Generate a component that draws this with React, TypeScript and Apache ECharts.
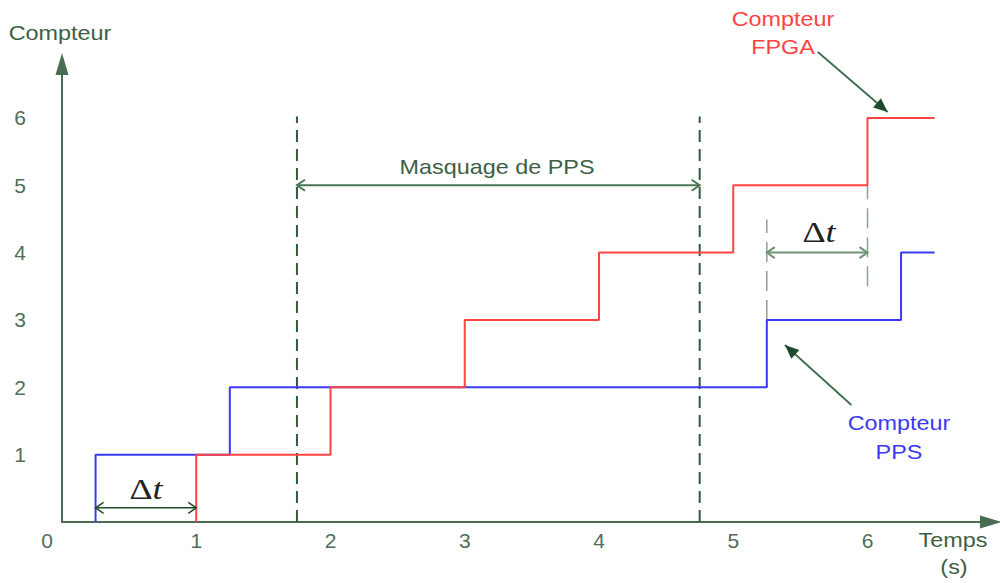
import React, { useEffect, useRef } from "react";
import * as echarts from "echarts";

// ---- data ----
const xTicks = [0, 1, 2, 3, 4, 5, 6];
const ppsStepTimes = [0.25, 1.25, 5.25, 6.25];
const ppsLevels = [1, 2, 3, 4];
const fpgaStepTimes = [1, 2, 3, 4, 5, 6];
const fpgaLevels = [1, 2, 3, 4, 5, 6];
const seriesEnd = 6.5;
const maskTimes = [1.75, 4.75];
const maskTop = 6.02;
const maskArrowLevel = 5;
const dtLowLevel = 0.21;
const dtHighLevel = 4;
// arrows: [x1, y1, x2, y2]
const arrowData = [
  [maskTimes[0], maskArrowLevel, maskTimes[1], maskArrowLevel],
  [ppsStepTimes[0], dtLowLevel, fpgaStepTimes[0], dtLowLevel],
  [ppsStepTimes[2], dtHighLevel, fpgaStepTimes[5], dtHighLevel],
  [5.63, 6.979, 6.15, 6.088],
  [5.88, 1.737, 5.385, 2.628],
];
const arrowKinds = ["double", "double", "double", "single", "single"];
const arrowColors = ["#4a7656", "#1f4d2c", "#6f9377", "#3f6c4a", "#3f6c4a"];
const arrowWidths = [2, 1.5, 2, 1.8, 1.8];
// guide dashes: [x, yFrom, yTo]
const guideData = [
  [ppsStepTimes[2], 3, 4.49],
  [fpgaStepTimes[5], 3.5, 5],
];

const FONT = "'Liberation Sans', Arial, sans-serif";
const SERIF = "'Liberation Serif', 'DejaVu Serif', serif";
const AXIS = "#4a6c53";
const LABEL = "#4f6e57";
const BLUE = "#3a3af5";
const RED = "#ff4242";

function stepData(times: number[], levels: number[]) {
  const pts: number[][] = [[times[0], 0]];
  times.forEach((t, i) => pts.push([t, levels[i]]));
  pts.push([seriesEnd, levels[levels.length - 1]]);
  return pts;
}

function renderArrow(params: any, api: any) {
  const i = params.dataIndex;
  const p1 = api.coord([api.value(0), api.value(1)]);
  const p2 = api.coord([api.value(2), api.value(3)]);
  const dx = p2[0] - p1[0];
  const dy = p2[1] - p1[1];
  const len = Math.sqrt(dx * dx + dy * dy) || 1;
  const ux = dx / len;
  const uy = dy / len;
  const nx = -uy;
  const ny = ux;
  const color = arrowColors[i];
  const w = arrowWidths[i];
  const children: any[] = [
    {
      type: "line",
      shape: { x1: p1[0], y1: p1[1], x2: p2[0], y2: p2[1] },
      style: { stroke: color, lineWidth: w },
    },
  ];
  if (arrowKinds[i] === "double") {
    const L = 8;
    const W = 5.5;
    const head = (tip: number[], sx: number, sy: number) => ({
      type: "polyline",
      shape: {
        points: [
          [tip[0] - sx * L + nx * W, tip[1] - sy * L + ny * W],
          [tip[0], tip[1]],
          [tip[0] - sx * L - nx * W, tip[1] - sy * L - ny * W],
        ],
      },
      style: { stroke: color, fill: "none", lineWidth: w },
    });
    children.push(head(p2, ux, uy));
    children.push(head(p1, -ux, -uy));
  } else {
    const L = 14;
    const W = 6;
    children.push({
      type: "polygon",
      shape: {
        points: [
          [p2[0], p2[1]],
          [p2[0] - ux * L + nx * W, p2[1] - uy * L + ny * W],
          [p2[0] - ux * L - nx * W, p2[1] - uy * L - ny * W],
        ],
      },
      style: { fill: "#1d4a2b" },
    });
  }
  return { type: "group", children };
}

function textEl(text: string, x: number, y: number, fill: string) {
  return {
    type: "text",
    x,
    y,
    scaleX: 1.17,
    style: {
      text,
      fill,
      font: `20px ${FONT}`,
      textAlign: "center",
      textVerticalAlign: "middle",
    },
  };
}

function deltaEl(x: number, y: number) {
  return {
    type: "text",
    x,
    y,
    scaleX: 1.2,
    style: {
      text: "{d|Δ}{t|t}",
      textAlign: "center",
      textVerticalAlign: "middle",
      rich: {
        d: { fontFamily: SERIF, fontSize: 30, fill: "#222", color: "#222" },
        t: { fontFamily: SERIF, fontSize: 30, fontStyle: "italic", fill: "#222", color: "#222" },
      },
    },
  };
}

export default function App() {
  const ref = useRef<HTMLDivElement>(null);
  useEffect(() => {
    document.body.style.margin = "0";
    const chart = echarts.init(ref.current!, null, { renderer: "svg" });
    const dashedMask = maskTimes.map((t) => ({
      type: "line",
      data: [
        [t, 0],
        [t, maskTop],
      ],
      showSymbol: false,
      silent: true,
      lineStyle: { color: "#2f5b3b", width: 2, type: [12, 7] },
      z: 1,
    }));
    const guides = guideData.map((g) => ({
      type: "line",
      data: [
        [g[0], g[1]],
        [g[0], g[2]],
      ],
      showSymbol: false,
      silent: true,
      lineStyle: { color: "#8aa490", width: 1.5, type: [20, 9] },
      z: 1,
    }));
    chart.setOption({
      animation: false,
      grid: { left: 62, right: 9, top: 64, bottom: 61 },
      xAxis: {
        type: "value",
        min: xTicks[0],
        max: 6.92,
        interval: 1,
        splitLine: { show: false },
        axisTick: { show: false },
        axisLine: {
          show: true,
          symbol: ["none", "triangle"],
          symbolSize: [13, 22],
          lineStyle: { color: AXIS, width: 2 },
        },
        axisLabel: {
          margin: 8,
          color: LABEL,
          fontSize: 21,
          fontFamily: FONT,
          formatter: (v: number) =>
            !Number.isInteger(v) ? "" : v === 0 ? "{z|0}" : String(v),
          rich: {
            z: { color: LABEL, fontSize: 21, fontFamily: FONT, padding: [0, 30, 0, 0] },
          },
        },
      },
      yAxis: {
        type: "value",
        min: 0,
        max: 6.8,
        interval: 1,
        splitLine: { show: false },
        axisTick: { show: false },
        axisLine: {
          show: true,
          symbol: ["none", "triangle"],
          symbolSize: [13, 22],
          lineStyle: { color: AXIS, width: 2 },
        },
        axisLabel: {
          margin: 36,
          color: LABEL,
          fontSize: 21,
          fontFamily: FONT,
          formatter: (v: number) => (v === 0 || !Number.isInteger(v) ? "" : String(v)),
        },
      },
      series: [
        ...dashedMask,
        ...guides,
        {
          type: "line",
          name: "Compteur PPS",
          step: "end",
          data: stepData(ppsStepTimes, ppsLevels),
          showSymbol: false,
          lineStyle: { color: BLUE, width: 2 },
          z: 2,
        },
        {
          type: "line",
          name: "Compteur FPGA",
          step: "end",
          data: stepData(fpgaStepTimes, fpgaLevels),
          showSymbol: false,
          lineStyle: { color: RED, width: 2 },
          z: 3,
        },
        {
          type: "custom",
          coordinateSystem: "cartesian2d",
          clip: false,
          silent: true,
          renderItem: renderArrow,
          data: arrowData,
          z: 4,
        },
      ],
      graphic: [
        textEl("Compteur", 60, 33, "#3d6045"),
        textEl("Temps", 953, 540, "#3d6045"),
        textEl("(s)", 954, 567, "#3d6045"),
        textEl("Masquage de PPS", 497, 167, "#3d6045"),
        textEl("Compteur", 783, 19, RED),
        textEl("FPGA", 783, 47, RED),
        textEl("Compteur", 899, 423, BLUE),
        textEl("PPS", 899, 452, BLUE),
        deltaEl(146, 489),
        deltaEl(819, 232),
      ],
    });
    return () => chart.dispose();
  }, []);
  return <div ref={ref} style={{ width: 1000, height: 583 }} />;
}
